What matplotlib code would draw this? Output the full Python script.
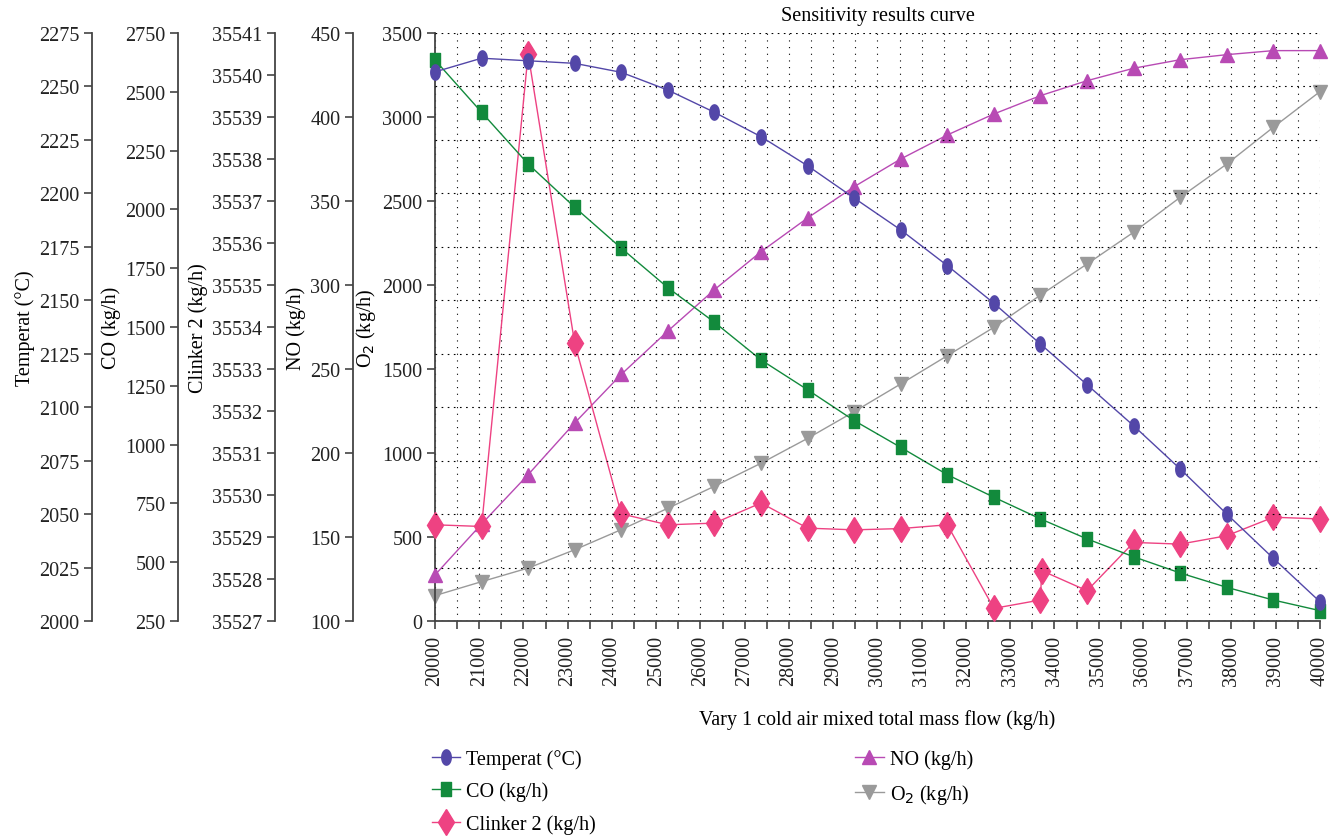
import numpy as np
import matplotlib
matplotlib.use("Agg")
import matplotlib.pyplot as plt
from matplotlib.path import Path

plt.rcParams['font.family'] = ['Liberation Serif', 'DejaVu Serif']
plt.rcParams['axes.edgecolor'] = '#444444'
plt.rcParams['xtick.color'] = '#444444'
plt.rcParams['ytick.color'] = '#444444'
plt.rcParams['xtick.labelcolor'] = '#222222'
plt.rcParams['ytick.labelcolor'] = '#222222'

# sensitivity results
mass_flow = [20000, 21052.6, 22105.3, 23157.9, 24210.5, 25263.2, 26315.8,
             27368.4, 28421.1, 29473.7, 30526.3, 31578.9, 32631.6, 33684.2,
             34736.8, 35789.5, 36842.1, 37894.7, 38947.4, 40000]
temperat = [2256.8, 2263.2, 2262.0, 2260.8, 2256.6, 2248.3, 2237.9, 2226.5,
            2212.9, 2197.8, 2182.9, 2166.2, 2148.6, 2129.5, 2110.5, 2091.3,
            2071.1, 2050.0, 2029.3, 2009.0]
co = [2635, 2413, 2193, 2009, 1835, 1667, 1520, 1360, 1233, 1102, 988, 872,
      776, 684, 599, 523, 454, 393, 339, 294]
# clinker has one extra point near 33700 kg/h
clinker_flow = [20000, 21052.6, 22105.3, 23157.9, 24210.5, 25263.2, 26315.8,
                27368.4, 28421.1, 29473.7, 30526.3, 31578.9, 32631.6, 33684.2,
                33710, 34736.8, 35789.5, 36842.1, 37894.7, 38947.4, 40000]
clinker = [35529.29, 35529.25, 35540.50, 35533.61, 35529.55, 35529.29,
           35529.33, 35529.81, 35529.21, 35529.17, 35529.20, 35529.29,
           35527.30, 35527.50, 35528.20, 35527.72, 35528.87, 35528.83,
           35529.03, 35529.47, 35529.43]
no = [127.4, 157.7, 187.1, 217.9, 246.8, 272.6, 297.2, 319.8, 339.9, 358.5,
      375.0, 389.3, 401.8, 412.7, 421.6, 429.0, 434.1, 437.1, 439.5, 439.5]
o2 = [151, 234, 315, 424, 544, 671, 802, 939, 1087, 1246, 1411, 1579, 1748,
      1940, 2125, 2314, 2522, 2720, 2939, 3151]

c_temp = '#5347a8'
c_co = '#128a3c'
c_clk = '#ee4282'
c_no = '#b84ab4'
c_o2 = '#9a9a9a'

# custom markers: tall ellipse and tall rectangle
t = np.linspace(0, 2 * np.pi, 40)
ellipse = Path(np.column_stack([0.62 * np.cos(t), np.sin(t)]))
rect = Path([(-0.34, -0.5), (0.34, -0.5), (0.34, 0.5), (-0.34, 0.5), (-0.34, -0.5)],
            [Path.MOVETO, Path.LINETO, Path.LINETO, Path.LINETO, Path.CLOSEPOLY])

fig = plt.figure(figsize=(13.38, 8.37), dpi=100)
ax = fig.add_axes([0.3251, 0.2569, 0.6614, 0.7025])

fs = 14.5


def side_axis(offset, lo, hi, step, label):
    a = ax.twinx()
    a.set_ylim(lo, hi)
    a.set_yticks(np.arange(lo, hi + step / 2, step))
    a.ticklabel_format(axis='y', useOffset=False, style='plain')
    a.yaxis.set_ticks_position('left')
    a.yaxis.set_label_position('left')
    for s in ['right', 'top', 'bottom']:
        a.spines[s].set_visible(False)
    a.spines['left'].set_visible(True)
    a.spines['left'].set_position(('axes', offset))
    a.spines['left'].set_linewidth(1.3)
    a.tick_params(axis='y', labelsize=fs, length=6, width=1.2, pad=3)
    a.set_ylabel(label, fontsize=fs, labelpad=3)
    return a


ax_no = side_axis(-0.0927, 100, 450, 50, 'NO (kg/h)')
ax_clk = side_axis(-0.1808, 35527, 35541, 1, 'Clinker 2 (kg/h)')
ax_co = side_axis(-0.2904, 250, 2750, 250, 'CO (kg/h)')
ax_t = side_axis(-0.3876, 2000, 2275, 25, 'Temperat (°C)')

# main O2 axis
ax.set_xlim(20000, 40000)
ax.set_ylim(0, 3500)
ax.set_yticks(np.arange(0, 3501, 500))
ax.set_xticks(np.arange(20000, 40001, 1000))
ax.set_xticks(np.arange(20500, 40000, 1000), minor=True)
ax.tick_params(axis='x', which='both', labelsize=fs, rotation=90, length=6, width=1.2, pad=4)
ax.tick_params(axis='y', labelsize=fs, length=6, width=1.2, pad=3)
for s in ['right', 'top']:
    ax.spines[s].set_visible(False)
ax.spines['left'].set_linewidth(1.3)
ax.spines['bottom'].set_linewidth(1.3)
ax.set_ylabel('O$_2$ (kg/h)', fontsize=fs, labelpad=3)
ax.set_xlabel('Vary 1 cold air mixed total mass flow (kg/h)', fontsize=fs, labelpad=17)
ax.set_title('Sensitivity results curve', fontsize=fs, pad=9)

ax.grid(axis='x', which='both', color='black', linestyle=(0, (1, 5)), linewidth=0.8)
ax_t.grid(axis='y', color='black', linestyle=(0, (1.5, 4)), linewidth=0.8)

lw = 1.0
l_t, = ax_t.plot(mass_flow, temperat, color=c_temp, lw=lw, marker=ellipse,
                 ms=11, clip_on=False, label='Temperat (°C)')
l_co, = ax_co.plot(mass_flow, co, color=c_co, lw=lw, marker=rect,
                   ms=10, clip_on=False, label='CO (kg/h)')
l_clk, = ax_clk.plot(clinker_flow, clinker, color=c_clk, lw=lw, marker='d',
                     ms=13, clip_on=False, label='Clinker 2 (kg/h)')
l_no, = ax_no.plot(mass_flow, no, color=c_no, lw=lw, marker='^',
                   ms=9.5, clip_on=False, label='NO (kg/h)')
l_o2, = ax.plot(mass_flow, o2, color=c_o2, lw=lw, marker='v',
                ms=9.5, clip_on=False, label='O$_2$ (kg/h)')

handles = [l_t, l_co, l_clk, l_no, l_o2]
fig.legend(handles, [h.get_label() for h in handles], loc='upper left',
           bbox_to_anchor=(0.309, 0.126), ncol=2, frameon=False, fontsize=fs,
           handlelength=1.4, handletextpad=0.3, labelspacing=0.65,
           columnspacing=12.9)

fig.savefig('out.png', dpi=100)
